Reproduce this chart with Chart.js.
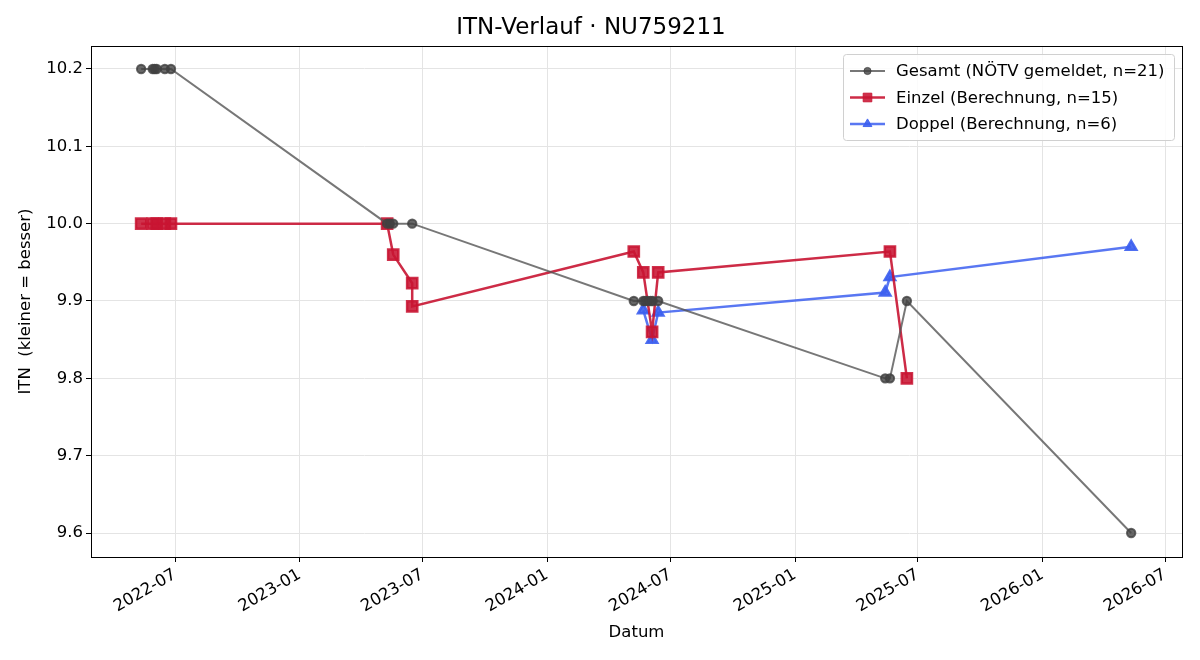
<!DOCTYPE html>
<html>
<head>
<meta charset="utf-8">
<script src="https://cdn.jsdelivr.net/npm/chart.js@4/dist/chart.umd.min.js"></script>
<style>
  html, body { margin: 0; padding: 0; background: #fff; }
  #wrap { width: 1200px; height: 660px; }
</style>
</head>
<body>
<div id="wrap"><canvas id="js-canvas-itn" width="1200" height="660"></canvas></div>
<script>
// Gesamt (reported ranking)
const gesamtDates = ['2022-05-12', '2022-05-29', '2022-06-01', '2022-06-04', '2022-06-16', '2022-06-25',
  '2023-05-10', '2023-05-14', '2023-05-19', '2023-06-16',
  '2024-05-08', '2024-05-22', '2024-05-25', '2024-05-29', '2024-06-02', '2024-06-05', '2024-06-13',
  '2025-05-14', '2025-05-21', '2025-06-15', '2026-05-12'];
const gesamtValues = [10.2, 10.2, 10.2, 10.2, 10.2, 10.2,
  10.0, 10.0, 10.0, 10.0,
  9.9, 9.9, 9.9, 9.9, 9.9, 9.9, 9.9,
  9.8, 9.8, 9.9, 9.6];

// Einzel (calculated)
const einzelDates = ['2022-05-12', '2022-05-29', '2022-06-04', '2022-06-16', '2022-06-25',
  '2023-05-10', '2023-05-19', '2023-06-16', '2023-06-16',
  '2024-05-08', '2024-05-22', '2024-06-04', '2024-06-13',
  '2025-05-21', '2025-06-15'];
const einzelValues = [10.0, 10.0, 10.0, 10.0, 10.0,
  10.0, 9.96, 9.923, 9.893,
  9.964, 9.937, 9.86, 9.937,
  9.964, 9.8];

// Doppel (calculated)
const doppelDates = ['2024-05-22', '2024-06-04', '2024-06-13', '2025-05-14', '2025-05-21', '2026-05-12'];
const doppelValues = [9.888, 9.85, 9.885, 9.911, 9.931, 9.97];

// x tick labels (month starts)
const tickLabels = ['2022-07', '2023-01', '2023-07', '2024-01', '2024-07', '2025-01', '2025-07', '2026-01', '2026-07'];

const toPoints = (dates, values) => dates.map((d, i) => ({ x: Date.parse(d), y: values[i] }));
const tickValues = tickLabels.map(t => Date.parse(t + '-01'));

const FONT = 'DejaVu Sans';
const FS = 16.5;

// matplotlib-like frame and legend box inside the plot
const framePlugin = {
  id: 'frame',
  afterDatasetsDraw(chart) {
    const { ctx, chartArea: a } = chart;
    ctx.save();
    ctx.strokeStyle = '#000';
    ctx.lineWidth = 1;
    ctx.strokeRect(Math.round(a.left) + 0.5, Math.round(a.top) + 0.5, Math.round(a.right - a.left), Math.round(a.bottom - a.top));

    // legend
    const bx = 843, by = 54, bw = 331, bh = 86;
    ctx.fillStyle = 'rgba(255,255,255,0.85)';
    ctx.strokeStyle = '#d0d0d0';
    ctx.beginPath();
    ctx.roundRect(bx + 0.5, by + 0.5, bw, bh, 3);
    ctx.fill();
    ctx.stroke();
    ctx.font = FS + 'px ' + FONT;
    ctx.textBaseline = 'middle';
    chart.data.datasets.forEach((ds, i) => {
      const y = by + 17 + i * 26.5;
      ctx.strokeStyle = ds.borderColor;
      ctx.lineWidth = ds.borderWidth;
      ctx.beginPath();
      ctx.moveTo(850, y);
      ctx.lineTo(885, y);
      ctx.stroke();
      ctx.fillStyle = ds.pointBackgroundColor;
      ctx.strokeStyle = ds.pointBorderColor;
      ctx.lineWidth = 1;
      Chart.helpers.drawPoint(ctx, { pointStyle: ds.pointStyle, radius: ds.pointRadius * 0.85, borderWidth: 1 }, 867.5, y);
      ctx.fillStyle = '#000';
      ctx.fillText(ds.label, 896, y + 1);
    });
    ctx.restore();
  }
};

const ctx = document.getElementById('js-canvas-itn');
new Chart(ctx, {
  type: 'line',
  data: {
    datasets: [{
      label: 'Gesamt (NÖTV gemeldet, n=21)',
      data: toPoints(gesamtDates, gesamtValues),
      borderColor: 'rgba(85,85,85,0.8)',
      borderWidth: 2,
      pointStyle: 'circle',
      pointRadius: 4.2,
      pointBackgroundColor: 'rgba(65,65,65,0.8)',
      pointBorderColor: 'rgba(65,65,65,0.8)',
      tension: 0
    }, {
      label: 'Einzel (Berechnung, n=15)',
      data: toPoints(einzelDates, einzelValues),
      borderColor: 'rgba(200,20,50,0.9)',
      borderWidth: 2.5,
      pointStyle: 'rect',
      pointRadius: 7.2,
      pointBackgroundColor: 'rgba(200,20,50,0.88)',
      pointBorderColor: 'rgba(200,20,50,0.88)',
      tension: 0
    }, {
      label: 'Doppel (Berechnung, n=6)',
      data: toPoints(doppelDates, doppelValues),
      borderColor: 'rgba(60,95,240,0.85)',
      borderWidth: 2.5,
      pointStyle: 'triangle',
      pointRadius: 6,
      pointBackgroundColor: 'rgba(60,95,240,0.9)',
      pointBorderColor: 'rgba(60,95,240,0.9)',
      tension: 0
    }]
  },
  options: {
    responsive: false,
    animation: false,
    layout: { padding: { left: 0, right: 18, top: 0, bottom: 0 } },
    plugins: {
      legend: { display: false },
      tooltip: { enabled: false },
      title: {
        display: true,
        text: 'ITN-Verlauf · NU759211',
        color: '#000',
        font: { family: FONT, size: 23, weight: 'normal' },
        padding: { top: 14, bottom: 4.4 }
      }
    },
    scales: {
      x: {
        type: 'linear',
        min: Date.parse('2022-02-27'),
        max: Date.parse('2026-07-26'),
        afterBuildTicks: (scale) => { scale.ticks = tickValues.map(v => ({ value: v })); },
        afterFit: (scale) => { scale.height = 103; },
        ticks: {
          autoSkip: false,
          minRotation: 30,
          maxRotation: 30,
          color: '#000',
          font: { family: FONT, size: FS },
          callback: (v) => tickLabels[tickValues.indexOf(v)]
        },
        grid: { color: '#e4e4e4', tickColor: '#000', tickLength: 5 },
        border: { color: '#000' },
        title: {
          display: true,
          text: 'Datum',
          color: '#000',
          font: { family: FONT, size: FS },
          padding: { top: 4, bottom: 17 }
        }
      },
      y: {
        min: 9.569,
        max: 10.2297,
        afterFit: (scale) => { scale.width = 91; },
        ticks: {
          stepSize: 0.1,
          includeBounds: false,
          color: '#000',
          font: { family: FONT, size: FS },
          callback: (v) => v.toFixed(1)
        },
        grid: { color: '#e4e4e4', tickColor: '#000', tickLength: 5 },
        border: { color: '#000' },
        title: {
          display: true,
          text: 'ITN  (kleiner = besser)',
          color: '#000',
          font: { family: FONT, size: FS },
          padding: { top: 16, bottom: 0 }
        }
      }
    }
  },
  plugins: [framePlugin]
});
</script>
</body>
</html>
